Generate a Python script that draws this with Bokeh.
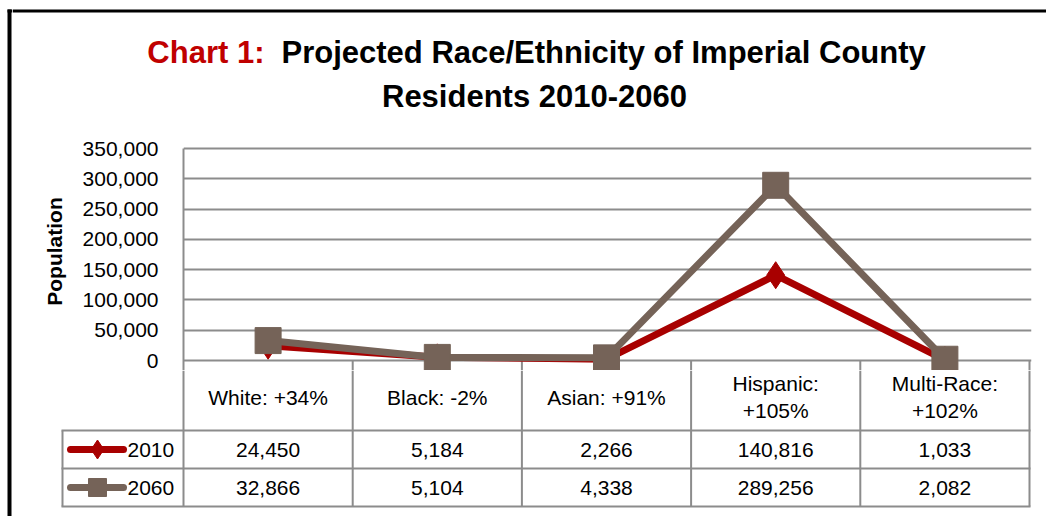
from bokeh.plotting import figure
from bokeh.models import Range1d, FixedTicker, NumeralTickFormatter
from bokeh.layouts import row, column
from bokeh.core.properties import value
from bokeh.embed import file_html
from bokeh.resources import INLINE

# ---------------- data ----------------
categories = ["White: +34%", "Black: -2%", "Asian: +91%", "Hispanic:\n+105%", "Multi-Race:\n+102%"]
series_names = ["2010", "2060"]
values_2010 = [24450, 5184, 2266, 140816, 1033]
values_2060 = [32866, 5104, 4338, 289256, 2082]
y_ticks = [0, 50000, 100000, 150000, 200000, 250000, 300000, 350000]
title_red = "Chart 1:"
title_black = "Projected Race/Ethnicity of Imperial County"
title_line2 = "Residents 2010-2060"
y_label = "Population"

# ---------------- styles ----------------
RED = "#a80000"
BROWN = "#756358"
TITLE_RED = "#c00000"
GRID = "#8c8c8c"
FONT = "Liberation Sans"

# ---------------- layout (page pixels) ----------------
STRIP_W = 12
COL_X0 = STRIP_W
COL_X1 = 1046
PAGE_Y1 = 516
TITLE_Y1 = 132
CHART_Y1 = 370
PLOT_L, PLOT_R = 183, 1029
PLOT_T, PLOT_B = 148, 360
FRAME_R = 1031
LEG_L = 62
HDR_B, ROW1_B, ROW2_B = 430, 468, 506
W = COL_X1 - COL_X0

n = len(categories)
px_per_x = (PLOT_R - PLOT_L) / n
y_max = y_ticks[-1]
px_per_y = (PLOT_B - PLOT_T) / y_max


def px_to_x(px):
    return (px - PLOT_L) / px_per_x


xc = [i + 0.5 for i in range(n)]
bounds_x = list(range(n + 1))


def clean(fig):
    fig.outline_line_color = None
    fig.background_fill_color = "white"
    fig.border_fill_color = "white"
    if "frame_align" in fig.properties():
        fig.frame_align = False
    return fig


# ---------------- left black border strip ----------------
strip = clean(figure(width=STRIP_W, height=PAGE_Y1, output_backend="svg", toolbar_location=None,
                     x_axis_type=None, y_axis_type=None, min_border=0,
                     x_range=Range1d(0, STRIP_W), y_range=Range1d(PAGE_Y1, 0)))
strip.segment(x0=[9], y0=[9], x1=[9], y1=[PAGE_Y1], line_color="black", line_width=4)
strip.segment(x0=[7], y0=[10.5], x1=[STRIP_W], y1=[10.5], line_color="black", line_width=3)

# ---------------- title ----------------
tfig = clean(figure(width=W, height=TITLE_Y1, output_backend="svg", toolbar_location=None,
                    x_axis_type=None, y_axis_type=None, min_border=0,
                    x_range=Range1d(COL_X0, COL_X1), y_range=Range1d(TITLE_Y1, 0)))
tfig.segment(x0=[COL_X0], y0=[10.5], x1=[COL_X1], y1=[10.5], line_color="black", line_width=3)
tkw = dict(text_font=value(FONT), text_font_style="bold", text_font_size="31px",
           text_baseline="middle")
tfig.text(x=[264], y=[52], text=[title_red], text_align="right", text_color=TITLE_RED, **tkw)
tfig.text(x=[281], y=[52], text=[title_black], text_align="left", text_color="black", **tkw)
tfig.text(x=[534], y=[96], text=[title_line2], text_align="center", text_color="black", **tkw)

# ---------------- chart ----------------
y_start = -(CHART_Y1 - PLOT_B) / px_per_y
y_end = y_max + (PLOT_T - TITLE_Y1) / px_per_y
chart = clean(figure(width=W, height=CHART_Y1 - TITLE_Y1, output_backend="svg", toolbar_location=None,
                     x_axis_type=None,
                     x_range=Range1d(0, px_to_x(FRAME_R)), y_range=Range1d(y_start, y_end),
                     min_border_left=PLOT_L - COL_X0, min_border_right=COL_X1 - FRAME_R,
                     min_border_top=0, min_border_bottom=0))
ticker = FixedTicker(ticks=y_ticks)
ax = chart.yaxis[0]
ax.ticker = ticker
ax.formatter = NumeralTickFormatter(format="0,0")
ax.bounds = (y_start, y_max)
ax.axis_line_color = GRID
ax.axis_line_width = 2
ax.major_tick_line_color = None
ax.minor_tick_line_color = None
ax.major_tick_out = 0
ax.major_tick_in = 0
ax.major_label_standoff = 25
ax.major_label_text_font = FONT
ax.major_label_text_font_size = "21px"
ax.major_label_text_color = "black"
ax.axis_label = y_label
ax.axis_label_text_font = FONT
ax.axis_label_text_font_style = "bold"
ax.axis_label_text_font_size = "21px"
ax.axis_label_text_color = "black"
ax.axis_label_standoff = 14
chart.xgrid.visible = False
chart.ygrid.ticker = ticker
chart.ygrid.grid_line_color = GRID
chart.ygrid.grid_line_width = 2

# header column separators (upper part)
chart.segment(x0=bounds_x[1:], y0=[y_start] * n, x1=bounds_x[1:], y1=[0] * n,
              line_color=GRID, line_width=2)

chart.line(xc, values_2010, line_color=RED, line_width=7, line_join="round", line_cap="round")
chart.scatter(xc, values_2010, marker="diamond", size=27, fill_color=RED, line_color=RED)
chart.line(xc, values_2060, line_color=BROWN, line_width=7, line_join="round", line_cap="round")
chart.scatter(xc, values_2060, marker="square", size=26, fill_color=BROWN, line_color=BROWN)

# ---------------- data table ----------------
table = clean(figure(width=W, height=PAGE_Y1 - CHART_Y1, output_backend="svg", toolbar_location=None,
                     x_axis_type=None, y_axis_type=None, min_border=0,
                     x_range=Range1d(px_to_x(COL_X0), px_to_x(COL_X1)),
                     y_range=Range1d(PAGE_Y1 - PLOT_B, CHART_Y1 - PLOT_B)))
top = CHART_Y1 - PLOT_B
hdr_b = HDR_B - PLOT_B
r1_b = ROW1_B - PLOT_B
r2_b = ROW2_B - PLOT_B
leg_x = px_to_x(LEG_L)

# verticals
table.segment(x0=bounds_x, y0=[top] * (n + 1), x1=bounds_x, y1=[r2_b] * (n + 1),
              line_color=GRID, line_width=2)
table.segment(x0=[leg_x], y0=[hdr_b], x1=[leg_x], y1=[r2_b], line_color=GRID, line_width=2)
# horizontals
table.segment(x0=[leg_x] * 3, y0=[hdr_b, r1_b, r2_b], x1=[n] * 3, y1=[hdr_b, r1_b, r2_b],
              line_color=GRID, line_width=2, line_cap="square")

txt = dict(text_font=value(FONT), text_font_size="21px", text_color="black",
           text_baseline="middle")
# header labels: one or two lines, centred about the row middle
hdr_mid = hdr_b / 2
line_gap = 27
hx, hy, ht = [], [], []
for xi, cat in zip(xc, categories):
    parts = cat.split("\n")
    for j, part in enumerate(parts):
        hx.append(xi)
        hy.append(hdr_mid + 1.5 + (j - (len(parts) - 1) / 2) * line_gap)
        ht.append(part)
table.text(x=hx, y=hy, text=ht, text_align="center", **txt)

r1_mid = (hdr_b + r1_b) / 2
r2_mid = (r1_b + r2_b) / 2
table.text(x=xc, y=[r1_mid] * n, text=[f"{v:,}" for v in values_2010], text_align="center", **txt)
table.text(x=xc, y=[r2_mid] * n, text=[f"{v:,}" for v in values_2060], text_align="center", **txt)

# legend keys
k0, k1, km, kt = px_to_x(70), px_to_x(123), px_to_x(97), px_to_x(127)
table.line([k0, k1], [r1_mid, r1_mid], line_color=RED, line_width=7, line_cap="round")
table.scatter([km], [r1_mid], marker="diamond", size=19, fill_color=RED, line_color=RED)
table.line([k0, k1], [r2_mid, r2_mid], line_color=BROWN, line_width=7, line_cap="round")
table.scatter([km], [r2_mid], marker="square", size=18, fill_color=BROWN, line_color=BROWN)
table.text(x=[kt, kt], y=[r1_mid, r2_mid], text=series_names, text_align="left", **txt)

layout = row(strip, column(tfig, chart, table))
open("out.html", "w").write(file_html(layout, INLINE))
